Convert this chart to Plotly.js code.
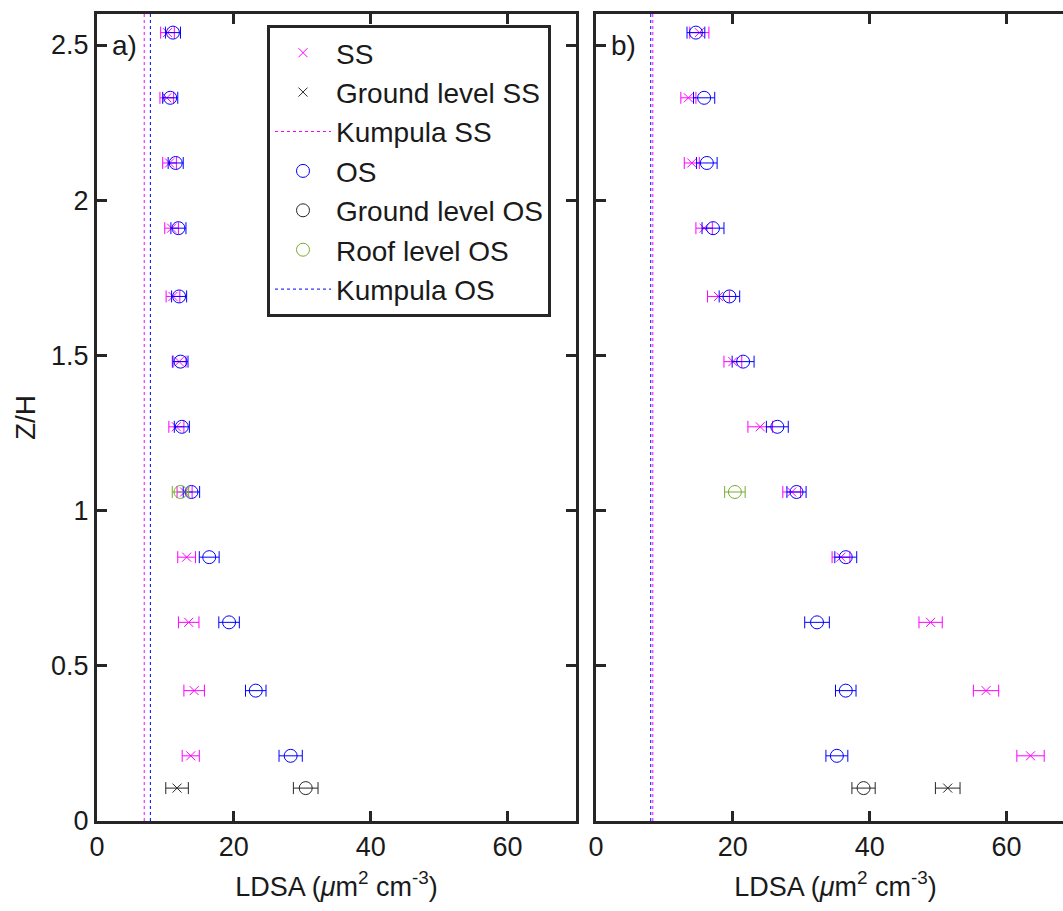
<!DOCTYPE html>
<html>
<head>
<meta charset="utf-8">
<script src="https://cdn.plot.ly/plotly-3.0.1.min.js"></script>
<style>
html,body{margin:0;padding:0;overflow:hidden;background:#fff;}
#wrap{width:1063px;height:911px;overflow:hidden;}
#plot{width:1090px;height:911px;}
</style>
</head>
<body>
<div id="wrap"><div id="plot"></div></div>
<script>
// Heights (Z/H)
const zLevels = [0.21, 0.42, 0.64, 0.85, 1.06, 1.27, 1.48, 1.69, 1.91, 2.12, 2.33, 2.54];
const zGround = [0.106];
const zRoof = [1.06];
const zSpan = [0, 2.6];

// Panel a)
const ssA     = [13.7, 14.2, 13.4, 13.1, 12.8, 11.6, 12.0, 11.1, 10.9, 10.6, 10.2, 10.3];
const ssAErr  = [1.25, 1.5, 1.5, 1.3, 1.1, 1.1, 1.0, 1.0, 1.0, 1.0, 1.0, 1.0];
const osA     = [28.3, 23.2, 19.3, 16.4, 13.8, 12.4, 12.2, 12.0, 11.9, 11.5, 10.7, 11.1];
const osAErr  = [1.7, 1.5, 1.5, 1.45, 1.2, 1.1, 1.1, 1.1, 1.1, 1.1, 1.1, 1.1];
const groundSSA = [11.7], groundSSAErr = [1.65];
const groundOSA = [30.5], groundOSAErr = [1.8];
const roofOSA = [12.2], roofOSAErr = [1.2];
const kumpulaSSA = 6.9, kumpulaOSA = 7.8;

// Panel b)
const ssB     = [63.5, 57.0, 48.9, 35.8, 28.6, 24.0, 20.0, 17.9, 15.8, 14.0, 13.5, 15.1];
const ssBErr  = [2.0, 1.85, 1.7, 1.3, 1.3, 1.8, 1.3, 1.6, 1.2, 1.1, 1.1, 1.4];
const osB     = [35.2, 36.5, 32.3, 36.5, 29.3, 26.5, 21.5, 19.5, 17.1, 16.2, 15.8, 14.6];
const osBErr  = [1.6, 1.5, 1.8, 1.6, 1.4, 1.6, 1.6, 1.5, 1.6, 1.5, 1.55, 1.3];
const groundSSB = [51.4], groundSSBErr = [1.8];
const groundOSB = [39.1], groundOSBErr = [1.7];
const roofOSB = [20.3], roofOSBErr = [1.5];
const kumpulaSSB = 8.3, kumpulaOSB = 8.0;

const C_SS = '#FF00FF', C_OS = '#0000FF', C_G = '#262626', C_R = '#77AC30';

function pts(x, err, y, name, color, sym, size, xa, ya, show) {
  return {
    type: 'scatter', mode: 'markers', x: x, y: y, name: name,
    xaxis: xa, yaxis: ya, showlegend: show, legendgroup: name,
    marker: {symbol: sym, size: size, color: color, line: {color: color, width: 1}},
    error_x: {type: 'data', array: err, visible: true, color: color, thickness: 1, width: 6}
  };
}
function vline(v, name, color, xa, ya, show) {
  return {
    type: 'scatter', mode: 'lines', x: [v, v], y: zSpan, name: name,
    xaxis: xa, yaxis: ya, showlegend: show, legendgroup: name,
    line: {color: color, width: 1, dash: 'dot'}
  };
}

const traces = [];
function panel(xa, ya, show, ss, ssE, gss, gssE, kss, os, osE, gos, gosE, ros, rosE, kos) {
  traces.push(pts(ss, ssE, zLevels, 'SS', C_SS, 'x-thin-open', 9, xa, ya, show));
  traces.push(pts(gss, gssE, zGround, 'Ground level SS', C_G, 'x-thin-open', 9, xa, ya, show));
  traces.push(vline(kss, 'Kumpula SS', C_SS, xa, ya, show));
  traces.push(pts(os, osE, zLevels, 'OS', C_OS, 'circle-open', 13, xa, ya, show));
  traces.push(pts(gos, gosE, zGround, 'Ground level OS', C_G, 'circle-open', 13, xa, ya, show));
  traces.push(pts(ros, rosE, zRoof, 'Roof level OS', C_R, 'circle-open', 13, xa, ya, show));
  traces.push(vline(kos, 'Kumpula OS', C_OS, xa, ya, show));
}
panel('x', 'y', true, ssA, ssAErr, groundSSA, groundSSAErr, kumpulaSSA, osA, osAErr, groundOSA, groundOSAErr, roofOSA, roofOSAErr, kumpulaOSA);
panel('x2', 'y2', false, ssB, ssBErr, groundSSB, groundSSBErr, kumpulaSSB, osB, osBErr, groundOSB, groundOSBErr, roofOSB, roofOSBErr, kumpulaOSB);

const FONT = 'Liberation Sans, Arial, Helvetica, sans-serif';
const TXT = '#1a1a1a';
const axCommon = {
  showline: true, mirror: 'ticks', linecolor: '#262626', linewidth: 3,
  ticks: 'inside', ticklen: 10, tickwidth: 3, tickcolor: '#262626',
  showgrid: false, zeroline: false,
  tickfont: {family: FONT, size: 27, color: TXT}
};
const xTitle = {text: 'LDSA (<i>μ</i>m<sup>2</sup> cm<sup>-3</sup>)', font: {family: FONT, size: 27, color: TXT}, standoff: 16};

const W = 1090;
const layout = {
  width: W, height: 911,
  margin: {l: 97, r: W - 1075, t: 14, b: 90},
  paper_bgcolor: '#fff', plot_bgcolor: '#fff',
  font: {family: FONT, size: 27, color: TXT},
  xaxis: Object.assign({}, axCommon, {domain: [0, 479/978], range: [0, 70], tickvals: [0, 20, 40, 60], title: xTitle, anchor: 'y'}),
  xaxis2: Object.assign({}, axCommon, {domain: [499/978, 1], range: [0, 70], tickvals: [0, 20, 40, 60], title: xTitle, anchor: 'y2'}),
  yaxis: Object.assign({}, axCommon, {range: [0, 2.6], tickvals: [0, 0.5, 1, 1.5, 2, 2.5], anchor: 'x',
    title: {text: 'Z/H', font: {family: FONT, size: 28, color: TXT}, standoff: 8}}),
  yaxis2: Object.assign({}, axCommon, {range: [0, 2.6], tickvals: [0, 0.5, 1, 1.5, 2, 2.5], showticklabels: false, anchor: 'x2'}),
  showlegend: true,
  legend: {
    x: (267 - 97) / 978, y: (821 - 25) / 807, xanchor: 'left', yanchor: 'top',
    bgcolor: '#fff', bordercolor: '#262626', borderwidth: 3,
    font: {family: FONT, size: 28, color: TXT},
    traceorder: 'grouped', tracegroupgap: 0, itemwidth: 56
  },
  annotations: [
    {text: 'a)', xref: 'x domain', yref: 'y', x: 0.028, y: 2.5, xanchor: 'left', yanchor: 'middle', showarrow: false, font: {family: FONT, size: 28, color: TXT}},
    {text: 'b)', xref: 'x2 domain', yref: 'y2', x: 0.028, y: 2.5, xanchor: 'left', yanchor: 'middle', showarrow: false, font: {family: FONT, size: 28, color: TXT}}
  ]
};

Plotly.newPlot('plot', traces, layout, {displayModeBar: false, staticPlot: true});
</script>
</body>
</html>
